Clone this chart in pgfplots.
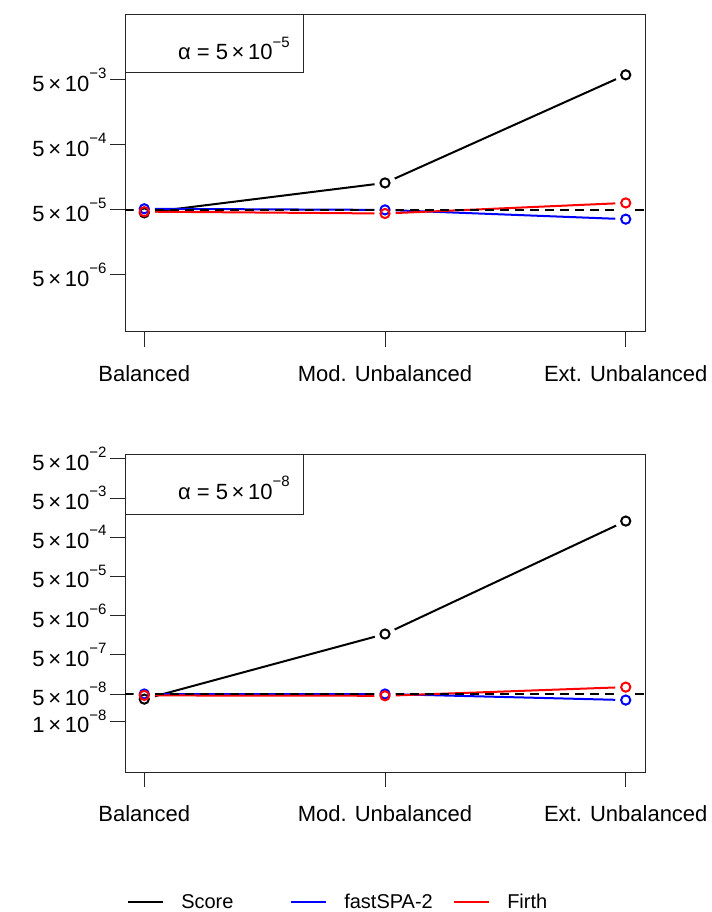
\documentclass[border=0pt]{standalone}
\usepackage{pgfplots}
\pgfplotsset{compat=1.18}
\usepackage{fontspec}
\setmainfont{Liberation Sans}
\newcommand{\sci}[2]{#1\,×\,10\raisebox{0.58em}{\fontsize{15bp}{15bp}\selectfont #2}}
\tikzset{
pScore/.style={black, line width=2bp},
pFast/.style={blue, line width=2bp},
pFirth/.style={red, line width=2bp},
seg/.style={mark=none},
halo/.style={white, line width=0.1bp, mark=*, mark size=10.5bp, mark options={draw=white, fill=white, solid}},
pts/.style={mark=o, mark size=4.6bp, mark options={line width=2bp, solid}},
pRef/.style={black, line width=2bp, dash pattern=on 9bp off 6bp},
}
\begin{document}
\begin{tikzpicture}
\useasboundingbox (0,0) rectangle (712bp,912bp);
% top panel
\begin{axis}[at={(125bp,580bp)}, anchor=south west,
  scale only axis, width=520bp, height=317bp,
  xmin=-0.08, xmax=2.08, ymode=log,
  xtick={0,1,2}, xticklabels={Balanced, Mod. Unbalanced, Ext. Unbalanced},
  xtick pos=bottom, ytick pos=left, tick align=outside,
  major tick length=15bp, yminorticks=false,
  axis line style={black!85, line width=1bp},
  every tick/.style={black!85, line width=1bp},
  tick label style={font=\fontsize{22bp}{26bp}\selectfont},
  xticklabel style={yshift=-15bp},
  ymin=6.6e-7, ymax=0.05,
  ytick={5e-3,5e-4,5e-5,5e-6},
  yticklabels={\sci{5}{−3},\sci{5}{−4},\sci{5}{−5},\sci{5}{−6}}]
% lines
\addplot[pScore, seg, forget plot] coordinates {(0,4.5e-5) (1,1.3e-4) (2,6.0e-3)};
\addplot[pFast, seg, forget plot] coordinates {(0,5.2e-5) (1,5.0e-5) (2,3.6e-5)};
\addplot[pFirth, seg, forget plot] coordinates {(0,4.7e-5) (1,4.4e-5) (2,6.4e-5)};
% gaps round the points
\addplot[halo, only marks, forget plot] coordinates {(0,4.5e-5) (1,1.3e-4) (2,6.0e-3)};
\addplot[halo, only marks, forget plot] coordinates {(0,5.2e-5) (1,5.0e-5) (2,3.6e-5)};
\addplot[halo, only marks, forget plot] coordinates {(0,4.7e-5) (1,4.4e-5) (2,6.4e-5)};
% points
\addplot[pScore, pts, only marks, forget plot] coordinates {(0,4.5e-5) (1,1.3e-4) (2,6.0e-3)};
\addplot[pFast, pts, only marks, forget plot] coordinates {(0,5.2e-5) (1,5.0e-5) (2,3.6e-5)};
\addplot[pFirth, pts, only marks, forget plot] coordinates {(0,4.7e-5) (1,4.4e-5) (2,6.4e-5)};
\addplot[pRef, forget plot] coordinates {(-0.08,5e-5) (2.08,5e-5)};
\draw[black!85, line width=1bp] (rel axis cs:0,1) rectangle ++(178bp,-58bp);
\node[anchor=base east, inner sep=0pt, font=\fontsize{22bp}{26bp}\selectfont] at ([xshift=165bp,yshift=-45bp]rel axis cs:0,1) {α = \sci{5}{−5}};
\end{axis}
% bottom panel
\begin{axis}[at={(125bp,140bp)}, anchor=south west,
  scale only axis, width=520bp, height=318bp,
  xmin=-0.08, xmax=2.08, ymode=log,
  xtick={0,1,2}, xticklabels={Balanced, Mod. Unbalanced, Ext. Unbalanced},
  xtick pos=bottom, ytick pos=left, tick align=outside,
  major tick length=15bp, yminorticks=false,
  axis line style={black!85, line width=1bp},
  every tick/.style={black!85, line width=1bp},
  tick label style={font=\fontsize{22bp}{26bp}\selectfont},
  xticklabel style={yshift=-15bp},
  ymin=5.1e-10, ymax=0.067,
  ytick={5e-2,5e-3,5e-4,5e-5,5e-6,5e-7,5e-8,1e-8},
  yticklabels={\sci{5}{−2},\sci{5}{−3},\sci{5}{−4},\sci{5}{−5},\sci{5}{−6},\sci{5}{−7},\sci{5}{−8},\sci{1}{−8}},
  legend columns=3,
  legend image code/.code={\draw[#1] (0bp,0bp) -- (35bp,0bp);},
  legend style={draw=none, fill=none, at={(axis description cs:0.004,-0.409)}, anchor=west,
    inner sep=0pt, column sep=0pt, font=\fontsize{20bp}{24bp}\selectfont,
    nodes={inner sep=0pt}}]
% lines
\addplot[pScore, seg, forget plot] coordinates {(0,3.7e-8) (1,1.7e-6) (2,1.3e-3)};
\addplot[pFast, seg, forget plot] coordinates {(0,5.0e-8) (1,5.0e-8) (2,3.5e-8)};
\addplot[pFirth, seg, forget plot] coordinates {(0,4.6e-8) (1,4.5e-8) (2,7.5e-8)};
% gaps round the points
\addplot[halo, only marks, forget plot] coordinates {(0,3.7e-8) (1,1.7e-6) (2,1.3e-3)};
\addplot[halo, only marks, forget plot] coordinates {(0,5.0e-8) (1,5.0e-8) (2,3.5e-8)};
\addplot[halo, only marks, forget plot] coordinates {(0,4.6e-8) (1,4.5e-8) (2,7.5e-8)};
% points
\addplot[pScore, pts, only marks, forget plot] coordinates {(0,3.7e-8) (1,1.7e-6) (2,1.3e-3)};
\addplot[pFast, pts, only marks, forget plot] coordinates {(0,5.0e-8) (1,5.0e-8) (2,3.5e-8)};
\addplot[pFirth, pts, only marks, forget plot] coordinates {(0,4.6e-8) (1,4.5e-8) (2,7.5e-8)};
\addlegendimage{pScore}
\addlegendentry{\hspace{17bp}\makebox[109bp][l]{Score}}
\addlegendimage{pFast}
\addlegendentry{\hspace{17bp}\makebox[109bp][l]{fastSPA-2}}
\addlegendimage{pFirth}
\addlegendentry{\hspace{17bp}\makebox[60bp][l]{Firth}}
\addplot[pRef, forget plot] coordinates {(-0.08,5e-8) (2.08,5e-8)};
\draw[black!85, line width=1bp] (rel axis cs:0,1) rectangle ++(178bp,-60bp);
\node[anchor=base east, inner sep=0pt, font=\fontsize{22bp}{26bp}\selectfont] at ([xshift=165bp,yshift=-45bp]rel axis cs:0,1) {α = \sci{5}{−8}};
\end{axis}
\end{tikzpicture}
\end{document}
